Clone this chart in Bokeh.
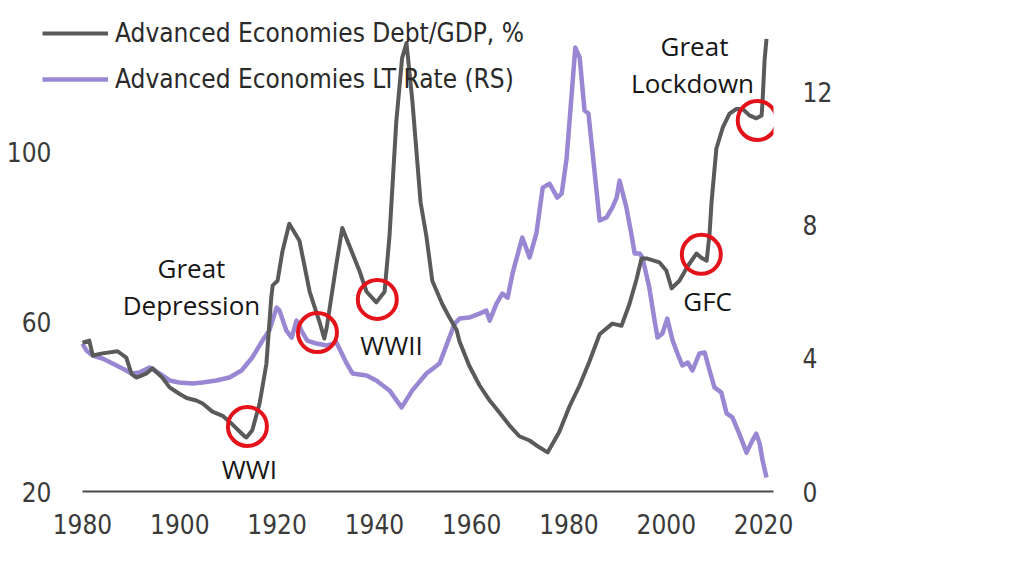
from bokeh.plotting import figure
from bokeh.models import Range1d, LinearAxis, FixedTicker, Legend, LegendItem, ColumnDataSource
from bokeh.embed import file_html
from bokeh.resources import INLINE
from bokeh.core.properties import value

# ---------------- data ----------------
debt_years = [1880.0, 1881.4, 1882.1, 1884.1, 1887.2, 1889.0, 1890.1, 1891.1, 1893.2, 1894.4,
              1896.4, 1897.9, 1899.9, 1901.4, 1903.4, 1904.7, 1906.7, 1908.8, 1910.8, 1913.3,
              1913.7, 1914.9, 1916.4, 1917.8, 1918.8, 1919.1, 1920.1, 1921.1, 1922.5, 1924.6,
              1926.7, 1928.7, 1929.7, 1930.2, 1932.2, 1933.4, 1936.9, 1938.4, 1940.4, 1942.1,
              1943.1, 1944.5, 1945.7, 1946.6, 1947.8, 1949.5, 1950.7, 1951.9, 1954.0, 1955.4,
              1956.9, 1957.5, 1959.5, 1961.6, 1963.7, 1965.7, 1967.8, 1969.8, 1971.9, 1973.9,
              1975.6, 1978.0, 1980.1, 1982.2, 1984.2, 1986.3, 1988.9, 1990.8, 1992.4, 1993.9,
              1994.9, 1996.1, 1998.6, 2000.0, 2001.1, 2002.7, 2004.4, 2006.2, 2007.2, 2008.3,
              2008.9, 2009.3, 2010.3, 2011.6, 2013.0, 2014.4, 2015.7, 2017.1, 2018.5, 2019.6,
              2019.8, 2020.2, 2020.6]
debt_gdp = [55, 55.5, 52, 52.5, 53, 51.5, 47.6, 46.8, 47.8, 49,
            46.8, 44.5, 43, 42, 41.4, 40.7, 38.8, 37.8, 35.8, 33,
            32.7, 34.4, 40.7, 50, 65.6, 68.5, 69.6, 76.5, 83, 79,
            67, 60, 56, 58.6, 73.6, 82, 72, 67, 64.5, 67,
            80, 107, 122, 125.5, 112, 88, 80, 69.6, 64, 61,
            58, 55.3, 49.6, 45, 41.4, 38.6, 35.5, 33, 32, 30.4,
            29.2, 34, 40, 45, 50.6, 57, 59.5, 59, 64, 70,
            74.8, 74.8, 73.9, 72, 67.8, 69.6, 73, 76, 75, 74.3,
            80.7, 88, 100.7, 105.6, 108.9, 110, 110, 108.5, 107.8, 108.5,
            112, 121.4, 126.5]

rate_years = [1880.0, 1880.8, 1882.1, 1884.1, 1886.2, 1889.0, 1890.1, 1891.7, 1893.8, 1895.8,
              1897.9, 1899.9, 1902.6, 1904.7, 1907.5, 1910.2, 1912.7, 1914.9, 1917.0, 1918.4,
              1919.9, 1920.5, 1921.9, 1923.0, 1924.0, 1925.0, 1926.2, 1928.1, 1930.2, 1932.2,
              1934.3, 1935.5, 1938.4, 1940.4, 1943.1, 1945.6, 1947.8, 1950.7, 1953.4, 1956.5,
              1957.5, 1959.5, 1961.6, 1963.0, 1963.7, 1965.1, 1966.3, 1967.4, 1968.4, 1970.4,
              1971.9, 1973.3, 1974.6, 1976.0, 1977.6, 1978.5, 1979.5, 1980.5, 1981.3, 1982.2,
              1983.2, 1984.0, 1984.8, 1986.3, 1987.7, 1988.9, 1989.8, 1990.4, 1991.8, 1992.8,
              1993.5, 1994.5, 1995.1, 1996.5, 1997.6, 1998.2, 1999.2, 2000.2, 2001.3, 2002.3,
              2003.3, 2004.4, 2005.4, 2006.8, 2007.9, 2008.9, 2009.9, 2011.3, 2012.4, 2013.6,
              2015.0, 2016.5, 2017.7, 2018.5, 2019.2, 2019.8, 2020.6]
lt_rate = [4.45, 4.24, 4.09, 4.0, 3.85, 3.64, 3.55, 3.58, 3.73, 3.55,
           3.34, 3.28, 3.25, 3.28, 3.34, 3.43, 3.64, 4.03, 4.54, 4.84,
           5.53, 5.44, 4.84, 4.63, 5.14, 4.84, 4.54, 4.45, 4.39, 4.48,
           3.85, 3.55, 3.49, 3.34, 3.04, 2.53, 3.04, 3.55, 3.85, 5.05,
           5.2, 5.23, 5.35, 5.44, 5.14, 5.65, 5.95, 5.83, 6.56, 7.64,
           7.04, 7.76, 9.14, 9.26, 8.84, 8.96, 10.0, 11.85, 13.35, 13.05,
           11.46, 11.37, 10.26, 8.15, 8.24, 8.54, 8.84, 9.35, 8.54, 7.76,
           7.16, 7.16, 7.04, 6.14, 5.14, 4.63, 4.75, 5.2, 4.54, 4.15,
           3.79, 3.88, 3.64, 4.15, 4.18, 3.64, 3.13, 2.98, 2.35, 2.23,
           1.74, 1.17, 1.53, 1.74, 1.44, 0.93, 0.42]

x_ticks = [1880, 1900, 1920, 1940, 1960, 1980, 2000, 2020]
x_tick_labels = ["1980", "1900", "1920", "1940", "1960", "1980", "2000", "2020"]
left_ticks = [20, 60, 100]
right_ticks = [0, 4, 8, 12]

legend_labels = ["Advanced Economies Debt/GDP, %", "Advanced Economies LT Rate (RS)"]

# marked episodes (year, debt level) and their captions
event_years = [1913.9, 1928.3, 1940.6, 2007.2, 2018.7]
event_debt = [35.3, 57.4, 65.2, 75.8, 107.3]
caption_text = ["Great", "Depression", "WWI", "WWII", "GFC", "Great", "Lockdown"]
caption_x = [1902.4, 1902.4, 1914.3, 1943.5, 2008.5, 2005.8, 2005.4]
caption_y = [72.7, 64.0, 25.4, 54.4, 64.9, 124.9, 116.2]

# ---------------- figure ----------------
GRAY = "#5a5a5a"
PURPLE = "#9a87d3"
TICK_FONT = "'DejaVu Sans Condensed', 'DejaVu Sans', sans-serif"

p = figure(width=1000, height=555, output_backend="svg", toolbar_location=None,
           x_range=Range1d(1871.78, 2022.04), y_range=Range1d(20, 133.18),
           min_border_left=42, min_border_right=227, min_border_top=10, min_border_bottom=64)
p.extra_y_ranges = {"rate": Range1d(0, 14.466)}
p.outline_line_color = None
p.xgrid.visible = False
p.ygrid.visible = False
p.background_fill_color = "white"
p.border_fill_color = "white"

# bottom axis
xa = p.xaxis[0]
xa.ticker = FixedTicker(ticks=x_ticks)
xa.bounds = (1880, 2022.04)
xa.major_label_overrides = {t: l for t, l in zip(x_ticks, x_tick_labels)}
xa.axis_line_color = "#4a4a4a"
xa.axis_line_width = 2
xa.major_tick_line_color = None
xa.minor_tick_line_color = None
xa.major_label_text_font = TICK_FONT
xa.major_label_text_font_size = "26px"
xa.major_label_text_color = "#3a3a3a"
xa.major_label_standoff = 16

# left axis
ya = p.yaxis[0]
ya.ticker = FixedTicker(ticks=left_ticks)
ya.axis_line_color = None
ya.major_tick_line_color = None
ya.minor_tick_line_color = None
ya.major_label_text_font = TICK_FONT
ya.major_label_text_font_size = "26px"
ya.major_label_text_color = "#3a3a3a"
ya.major_label_standoff = -15

# right axis
ra = LinearAxis(y_range_name="rate", ticker=FixedTicker(ticks=right_ticks))
ra.axis_line_color = None
ra.major_tick_line_color = None
ra.minor_tick_line_color = None
ra.major_label_text_font = TICK_FONT
ra.major_label_text_font_size = "26px"
ra.major_label_text_color = "#3a3a3a"
ra.major_label_standoff = 23
p.add_layout(ra, "right")

# series
src_rate = ColumnDataSource(dict(x=rate_years, y=lt_rate))
src_debt = ColumnDataSource(dict(x=debt_years, y=debt_gdp))
r_rate = p.line("x", "y", source=src_rate, y_range_name="rate", line_color=PURPLE,
                line_width=4.5, line_join="round")
r_debt = p.line("x", "y", source=src_debt, line_color=GRAY, line_width=4, line_join="round")

# red circles
p.scatter(event_years, event_debt, marker="circle", size=39, fill_color=None,
          line_color="#e3121b", line_width=4)

# captions
p.text(caption_x, caption_y, text=caption_text, text_align="center", text_baseline="middle",
       text_font=value("Open Sans"), text_font_size="26px", text_color="#161616")

# legend
legend = Legend(items=[LegendItem(label=legend_labels[0], renderers=[r_debt]),
                       LegendItem(label=legend_labels[1], renderers=[r_rate])],
                location=(0, 389), orientation="vertical",
                glyph_width=66, glyph_height=46, label_height=46, label_standoff=7,
                spacing=0, padding=0, margin=0,
                label_text_font=TICK_FONT, label_text_font_size="26px",
                label_text_color="#2a2a2a", border_line_color=None,
                background_fill_alpha=0)
p.add_layout(legend)

open("out.html", "w").write(file_html(p, INLINE))
